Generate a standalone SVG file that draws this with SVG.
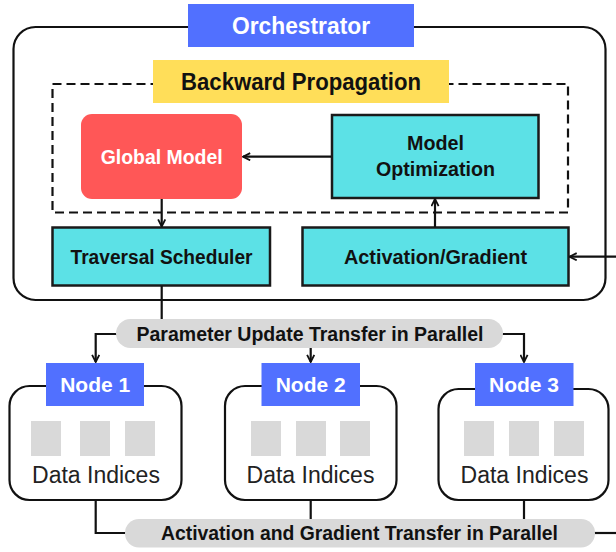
<svg xmlns="http://www.w3.org/2000/svg" width="616" height="552" viewBox="0 0 616 552">
<defs>
<marker id="arr" viewBox="0 0 10 10" refX="9" refY="5" markerWidth="9" markerHeight="9" markerUnits="userSpaceOnUse" orient="auto">
<path d="M1,1 L9,5 L1,9" fill="none" stroke="#111" stroke-width="2"/>
</marker>
<style>
.frame{fill:#fff;stroke:#111;stroke-width:2.2}
.dash{fill:none;stroke:#111;stroke-width:2.2;stroke-dasharray:9 5}
.cyan{fill:#5CE1E6;stroke:#1a1a1a;stroke-width:2.5}
.blue{fill:#5170FF}
.pill{fill:#D9D9D9}
.sq{fill:#D9D9D9}
.ln{fill:none;stroke:#111;stroke-width:2.2}
.lna{fill:none;stroke:#111;stroke-width:2.2;marker-end:url(#arr)}
text{font-family:"Liberation Sans",Arial,sans-serif;text-anchor:middle}
.b{font-weight:bold;fill:#111}
.w{font-weight:bold;fill:#fff}
.r{fill:#222}
</style>
</defs>
<g id="orchestrator">
<rect class="frame" x="13.5" y="27" width="592" height="273" rx="22"/>
<rect class="blue" x="188" y="4" width="226" height="43"/>
<text class="w" x="301" y="34" font-size="24" textLength="138" lengthAdjust="spacingAndGlyphs">Orchestrator</text>
</g>
<g id="backward-propagation">
<rect class="dash" x="52.5" y="84" width="515.5" height="128.5"/>
<rect x="153" y="60" width="296" height="43" fill="#FFDE59"/>
<text class="b" x="301" y="90" font-size="23" textLength="240" lengthAdjust="spacingAndGlyphs">Backward Propagation</text>
</g>
<g id="global-model">
<rect x="81" y="114" width="161" height="85" rx="11" fill="#FF5757"/>
<text class="w" x="161.7" y="163.5" font-size="20" textLength="122" lengthAdjust="spacingAndGlyphs">Global Model</text>
</g>
<g id="model-optimization">
<rect class="cyan" x="332" y="115" width="206.5" height="83"/>
<text class="b" x="435.5" y="150" font-size="20" textLength="57" lengthAdjust="spacingAndGlyphs">Model</text>
<text class="b" x="435.5" y="176" font-size="20" textLength="119" lengthAdjust="spacingAndGlyphs">Optimization</text>
</g>
<g id="traversal-scheduler">
<rect class="cyan" x="52.5" y="227.5" width="217.5" height="58"/>
<text class="b" x="161.5" y="264" font-size="20" textLength="182" lengthAdjust="spacingAndGlyphs">Traversal Scheduler</text>
</g>
<g id="activation-gradient">
<rect class="cyan" x="302.5" y="227.5" width="266" height="58"/>
<text class="b" x="435.5" y="264" font-size="20" textLength="183" lengthAdjust="spacingAndGlyphs">Activation/Gradient</text>
</g>
<g id="node1">
<rect class="frame" x="9.5" y="386" width="172" height="114" rx="20"/>
<rect class="blue" x="46" y="363" width="98" height="43"/>
<text class="w" x="95.2" y="392" font-size="21">Node 1</text>
<rect class="sq" x="31" y="421" width="30" height="35"/>
<rect class="sq" x="80" y="421" width="30" height="35"/>
<rect class="sq" x="125" y="421" width="30" height="35"/>
<text class="r" x="96" y="483" font-size="23">Data Indices</text>
</g>
<g id="node2">
<rect class="frame" x="225" y="386" width="171.5" height="114" rx="20"/>
<rect class="blue" x="261.5" y="363" width="98.5" height="43"/>
<text class="w" x="310.7" y="392" font-size="21">Node 2</text>
<rect class="sq" x="251" y="421" width="30" height="35"/>
<rect class="sq" x="296" y="421" width="30" height="35"/>
<rect class="sq" x="340" y="421" width="30" height="35"/>
<text class="r" x="310.5" y="483" font-size="23">Data Indices</text>
</g>
<g id="node3">
<rect class="frame" x="438.5" y="389" width="170" height="111" rx="20"/>
<rect class="blue" x="475" y="363" width="98.5" height="43"/>
<text class="w" x="524" y="392" font-size="21">Node 3</text>
<rect class="sq" x="464" y="421" width="30" height="35"/>
<rect class="sq" x="509" y="421" width="30" height="35"/>
<rect class="sq" x="554" y="421" width="30" height="35"/>
<text class="r" x="524.5" y="483" font-size="23">Data Indices</text>
</g>
<g id="connectors">
<line class="lna" x1="331" y1="156.7" x2="243" y2="156.7"/>
<line class="lna" x1="161.7" y1="199" x2="161.7" y2="226.5"/>
<line class="lna" x1="435" y1="227" x2="435" y2="199"/>
<line class="lna" x1="616" y1="256.7" x2="569.5" y2="256.7"/>
<line class="ln" x1="161.7" y1="286" x2="161.7" y2="320"/>
<polyline class="lna" points="117,334 95.7,334 95.7,362"/>
<line class="lna" x1="310.7" y1="348" x2="310.7" y2="362"/>
<polyline class="lna" points="502,334 524,334 524,362"/>
<polyline class="ln" points="95.7,500 95.7,533 126,533"/>
<line class="ln" x1="310.7" y1="500" x2="310.7" y2="520"/>
<line class="ln" x1="524" y1="500" x2="524" y2="520"/>
<line class="ln" x1="594" y1="533" x2="616" y2="533"/>
</g>
<g id="param-transfer">
<rect class="pill" x="116" y="319" width="387" height="29" rx="14.5"/>
<text class="b" x="310" y="340.5" font-size="19.5" textLength="347" lengthAdjust="spacingAndGlyphs">Parameter Update Transfer in Parallel</text>
</g>
<g id="activation-transfer">
<rect class="pill" x="125" y="519" width="470" height="28.5" rx="14"/>
<text class="b" x="359.5" y="539.5" font-size="19.5" textLength="397" lengthAdjust="spacingAndGlyphs">Activation and Gradient Transfer in Parallel</text>
</g>
</svg>
